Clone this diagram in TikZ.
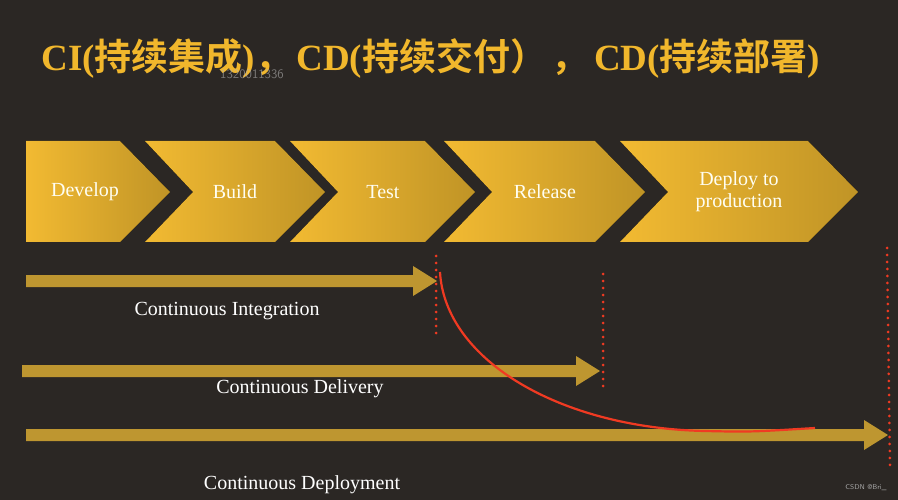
\documentclass[tikz,border=0pt]{standalone}
\usepackage{fontspec}
\setmainfont{Liberation Serif}
\newfontfamily\cjk{Noto Sans CJK SC}[BoldFont={* Bold}]
\usetikzlibrary{arrows.meta}
\definecolor{bg}{HTML}{2B2724}
\definecolor{goldA}{HTML}{F2BA32}
\definecolor{goldB}{HTML}{C09426}
\definecolor{goldT}{HTML}{F1B72C}
\definecolor{arrowc}{HTML}{BE9630}
\definecolor{redc}{HTML}{F03A22}
\tikzset{
  chev/.style={left color=goldA, right color=goldB, draw=none},
  chevtext/.style={text=white!95!yellow, font=\fontsize{20}{22}\selectfont, align=center},
  bigarrow/.style={draw=none, fill=arrowc},
  lbl/.style={text=white, font=\fontsize{20}{22}\selectfont},
  reddots/.style={draw=redc, line width=3pt, line cap=round, dash pattern=on 0pt off 7pt}
}
\begin{document}
\begin{tikzpicture}[x=1pt,y=-1pt]
\fill[bg] (0,0) rectangle (898,500);
\useasboundingbox (0,0) rectangle (898,500);
\node[text=goldT, font=\fontsize{37}{40}\selectfont\bfseries, anchor=west] (title) at (38,58)
  {CI({\cjk 持续集成}){\cjk ，}\hspace{4pt}CD({\cjk 持续交付）}\hspace{4pt}{\cjk ，}\hspace{6pt}CD({\cjk 持续部署})};
\node[text=gray!60, font=\fontsize{13}{13}\selectfont\sffamily, opacity=0.6] (wm) at (252,74) {1320011336};
% chevrons
\def\chevron#1#2#3{%
 \fill[chev] (#1,141) -- (#2-50,141) -- (#2,192) -- (#2-50,242) -- (#1,242)
   \ifnum#3=1 -- (#1+48,192)\fi -- cycle;}
\chevron{26}{170}{0}
\chevron{145}{325}{1}
\chevron{290}{475}{1}
\chevron{444}{645}{1}
\chevron{620}{858}{1}
\node[chevtext] (t1) at (85,192) {Develop};
\node[chevtext] (t2) at (235,192) {Build};
\node[chevtext] (t3) at (383,192) {Test};
\node[chevtext] (t4) at (545,192) {Release};
\node[chevtext] (t5) at (739,192) {Deploy to\\production};
% arrows
\def\bigarr#1#2#3{\fill[bigarrow] (#1,#3-6) -- (#2-24,#3-6) -- (#2-24,#3-15) -- (#2,#3) -- (#2-24,#3+15) -- (#2-24,#3+6) -- (#1,#3+6) -- cycle;}
\bigarr{26}{437}{281}
\bigarr{22}{600}{371}
\bigarr{26}{888}{435}
\node[lbl] (l1) at (227,311) {Continuous Integration};
\node[lbl] (l2) at (300,389) {Continuous Delivery};
\node[lbl] (l3) at (302,485) {Continuous Deployment};
% red dotted
\coordinate (d1a) at (436,256); \coordinate (d1b) at (436,335);
\coordinate (d2a) at (603,274); \coordinate (d2b) at (603,393);
\coordinate (d3a) at (887,248); \coordinate (d3b) at (890,465);
\draw[reddots] (d1a) -- (d1b);
\draw[reddots] (d2a) -- (d2b);
\draw[reddots] (d3a) -- (d3b);
% red curve
\coordinate (r0) at (440,272); \coordinate (r1) at (705,431); \coordinate (r2) at (815,428);
\draw[redc, line width=2.2pt] (r0) .. controls (445,360) and (560,428) .. (r1) .. controls (750,432) .. (r2);
\node[text=gray!70, font=\fontsize{7}{7}\selectfont\sffamily] (csdn) at (866,488) {CSDN @Bri\_};
\end{tikzpicture}
\end{document}
